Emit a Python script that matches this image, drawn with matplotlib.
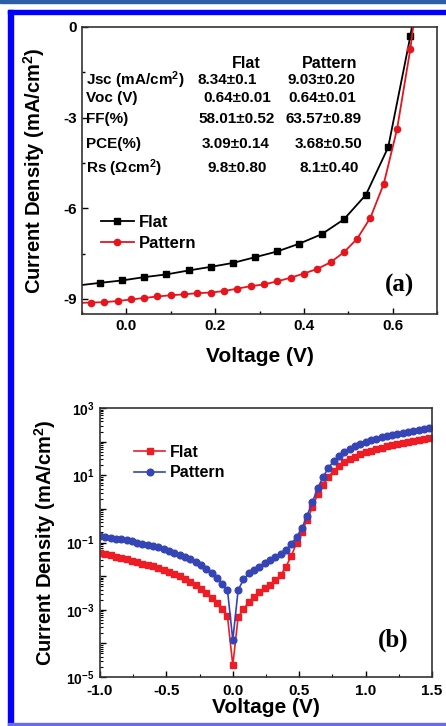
import numpy as np
import matplotlib
matplotlib.use("Agg")
import matplotlib.pyplot as plt
from matplotlib.ticker import MultipleLocator, LogLocator, FuncFormatter, NullFormatter
from matplotlib.patches import Rectangle

plt.rcParams['font.family'] = ['Liberation Sans', 'DejaVu Sans']
plt.rcParams['font.weight'] = 'bold'
plt.rcParams['mathtext.fontset'] = 'custom'
plt.rcParams['mathtext.rm'] = 'Liberation Sans:bold'
plt.rcParams['mathtext.bf'] = 'Liberation Sans:bold'
plt.rcParams['mathtext.default'] = 'bf'

# ---------------- Panel (a): J-V curves ----------------
flat_v = [-0.10, -0.06, -0.01, 0.04, 0.09, 0.14, 0.19, 0.24, 0.29, 0.34, 0.39, 0.44, 0.49, 0.54, 0.59, 0.64, 0.66]
flat_j = [-8.54, -8.47, -8.39, -8.28, -8.19, -8.06, -7.94, -7.81, -7.62, -7.43, -7.17, -6.86, -6.37, -5.55, -3.98, -0.30, 1.5]
pat_v = [-0.10, -0.08, -0.05, -0.02, 0.01, 0.04, 0.07, 0.10, 0.13, 0.16, 0.19, 0.22, 0.25, 0.28, 0.31,
         0.34, 0.37, 0.40, 0.43, 0.46, 0.49, 0.52, 0.55, 0.58, 0.61, 0.64, 0.655]
pat_j = [-9.13, -9.12, -9.11, -9.07, -9.02, -8.97, -8.92, -8.88, -8.85, -8.81, -8.79, -8.74, -8.66, -8.58, -8.52,
         -8.42, -8.30, -8.16, -8.01, -7.79, -7.46, -7.01, -6.31, -5.19, -3.38, -0.72, 1.0]

table_cols = ["Flat", "Pattern"]
table_rows = [r"Jsc (mA/cm$^2$)", "Voc (V)", "FF(%)", "PCE(%)", r"Rs ($\Omega$cm$^2$)"]
table_flat = ["8.34±0.1", "0.64±0.01", "58.01±0.52", "3.09±0.14", "9.8±0.80"]
table_pattern = ["9.03±0.20", "0.64±0.01", "63.57±0.89", "3.68±0.50", "8.1±0.40"]

# ---------------- Panel (b): dark J-V on log scale ----------------
dark_v = [round(-1.0 + 0.04 * i, 2) for i in range(63)]
flat_log10_j = [-1.30, -1.34, -1.38, -1.42, -1.46, -1.50, -1.55, -1.59, -1.63, -1.67,
                -1.71, -1.76, -1.81, -1.87, -1.93, -2.00, -2.08, -2.17, -2.27, -2.38,
                -2.50, -2.64, -2.80, -2.98, -3.20, -4.65, -3.22, -2.98, -2.78, -2.62,
                -2.48, -2.36, -2.25, -2.13, -1.98, -1.72, -1.40, -1.02, -0.68, -0.32,
                0.05, 0.45, 0.72, 0.95, 1.13, 1.27, 1.38, 1.47, 1.55, 1.62,
                1.68, 1.73, 1.78, 1.82, 1.86, 1.90, 1.93, 1.97, 2.00, 2.03,
                2.06, 2.09, 2.12]
pattern_log10_j = [-0.82, -0.84, -0.86, -0.89, -0.91, -0.94, -0.97, -1.00, -1.03, -1.06,
                   -1.10, -1.14, -1.19, -1.24, -1.30, -1.36, -1.42, -1.50, -1.58, -1.68,
                   -1.79, -1.92, -2.06, -2.22, -2.42, -3.90, -2.42, -2.10, -1.92, -1.82,
                   -1.72, -1.62, -1.53, -1.44, -1.34, -1.22, -1.04, -0.84, -0.58, -0.20,
                   0.21, 0.62, 0.95, 1.22, 1.42, 1.57, 1.69, 1.78, 1.86, 1.93,
                   1.99, 2.04, 2.09, 2.13, 2.17, 2.21, 2.24, 2.27, 2.30, 2.33,
                   2.36, 2.39, 2.42]

W, H = 446, 726
fig = plt.figure(figsize=(W / 100, H / 100), dpi=100)

# decorative frame
fig.patches.append(Rectangle((0, 1 - 3 / H), 1, 3 / H, transform=fig.transFigure, color='#2a5fa8', zorder=0))
fig.patches.append(Rectangle((8 / W, 1 - 14 / H), 1 - 8 / W, 4 / H, transform=fig.transFigure, color='#0000ff', zorder=0))
fig.patches.append(Rectangle((8 / W, 0), 5 / W, 1 - 10 / H, transform=fig.transFigure, color='#0000ff', zorder=0))
fig.patches.append(Rectangle((8 / W, 1 / H), 1 - 8 / W, 2 / H, transform=fig.transFigure, color='#6a6aee', zorder=0))

def px_axes(l, t, r, b):
    return [l / W, 1 - b / H, (r - l) / W, (b - t) / H]

tick_kw = dict(direction='in', width=1.0, labelsize=11)

# ---------- (a)
ax1 = fig.add_axes(px_axes(82, 27, 437, 314))
ax1.plot(flat_v, flat_j, '-', color='black', lw=1.3, marker='s', ms=4.5,
         markevery=list(range(1, len(flat_v) - 1)), label='Flat')
ax1.plot(pat_v, pat_j, '-', color='#e8141c', lw=1.3, marker='o', ms=4.5,
         markevery=list(range(1, len(pat_v) - 1)), label='Pattern')
ax1.set_xlim(-0.1, 0.7)
ax1.set_ylim(-9.5, 0)
ax1.xaxis.set_major_locator(MultipleLocator(0.2))
ax1.xaxis.set_minor_locator(MultipleLocator(0.1))
ax1.yaxis.set_major_locator(MultipleLocator(3))
ax1.yaxis.set_minor_locator(MultipleLocator(1.5))
ax1.xaxis.set_major_formatter(FuncFormatter(lambda v, p: f"{v:.1f}"))
ax1.yaxis.set_major_formatter(FuncFormatter(lambda v, p: f"{v:.0f}"))
ax1.tick_params(which='major', length=4, **tick_kw)
ax1.tick_params(which='minor', length=2.5, direction='in', width=1.0)
for s in ax1.spines.values():
    s.set_linewidth(1.2)
    s.set_color('#333333')
ax1.set_xlabel("Voltage (V)", fontsize=15, fontweight='bold', labelpad=10)
ax1.set_ylabel(r"Current Density (mA/cm$^2$)", fontsize=14.5, fontweight='bold', labelpad=12)
ax1.legend(loc='upper left', bbox_to_anchor=(0.02, 0.385), frameon=False, fontsize=12,
           handlelength=2.0, handletextpad=0.3, labelspacing=0.35, borderpad=0.2)

def tx(x, y, s, **kw):
    # place text at pixel position of the figure
    fig.text(x / W, 1 - y / H, s, **kw)

tfs = 11
tx(246, 63, table_cols[0], ha='center', va='center', fontsize=tfs + 0.5, fontweight='bold')
tx(330, 63, table_cols[1], ha='center', va='center', fontsize=tfs + 0.5, fontweight='bold')
row_y = [80, 98, 119, 144, 168]
flat_x = [197, 203, 198, 202, 207]
pat_x = [288, 288, 286, 295, 300]
for i in range(5):
    tx(86, row_y[i], table_rows[i], ha='left', va='center', fontsize=tfs, fontweight='bold')
    tx(flat_x[i], row_y[i], table_flat[i], ha='left', va='center', fontsize=tfs, fontweight='bold')
    tx(pat_x[i], row_y[i], table_pattern[i], ha='left', va='center', fontsize=tfs, fontweight='bold')
tx(400, 285, "(a)", ha='center', va='center', fontsize=18, fontweight='bold',
   family=['Liberation Serif', 'DejaVu Serif'])

# ---------- (b)
ax2 = fig.add_axes(px_axes(100, 408, 432, 677))
flat_dark = [10 ** v for v in flat_log10_j]
pattern_dark = [10 ** v for v in pattern_log10_j]
ax2.plot(dark_v, flat_dark, '-', color='#ee1c24', lw=1.2, marker='s', ms=4.5, label='Flat')
ax2.plot(dark_v, pattern_dark, '-', color='#3545b5', lw=1.2, marker='o', ms=4.8, label='Pattern')
ax2.set_yscale('log')
ax2.set_xlim(-1.0, 1.5)
ax2.set_ylim(1e-5, 1e3)
ax2.xaxis.set_major_locator(MultipleLocator(0.5))
ax2.xaxis.set_minor_locator(MultipleLocator(0.25))
ax2.xaxis.set_major_formatter(FuncFormatter(lambda v, p: f"{v:.1f}"))
ax2.yaxis.set_major_locator(LogLocator(base=10, numticks=20))
ax2.yaxis.set_minor_locator(LogLocator(base=10, subs=np.arange(2, 10), numticks=20))
ax2.yaxis.set_minor_formatter(NullFormatter())

def logfmt(v, p):
    e = int(round(np.log10(v)))
    if e % 2 == 0:
        return ""
    return r"10$^{%d}$" % e

ax2.yaxis.set_major_formatter(FuncFormatter(logfmt))
ax2.tick_params(which='major', length=4, **tick_kw)
ax2.tick_params(axis='x', which='major', pad=5)
ax2.tick_params(axis='y', which='major', labelsize=10, pad=4)
ax2.tick_params(which='minor', length=2, direction='in', width=0.8)
for s in ax2.spines.values():
    s.set_linewidth(1.2)
    s.set_color('#333333')
ax2.set_xlabel("Voltage (V)", fontsize=15, fontweight='bold', labelpad=0)
ax2.set_ylabel(r"Current Density (mA/cm$^2$)", fontsize=14.5, fontweight='bold', labelpad=6)
ax2.legend(loc='upper left', bbox_to_anchor=(0.07, 0.905), frameon=False, fontsize=11.5,
           handlelength=1.9, handletextpad=0.3, labelspacing=0.35, borderpad=0.2)
tx(393, 640, "(b)", ha='center', va='center', fontsize=18, fontweight='bold',
   family=['Liberation Serif', 'DejaVu Serif'])

fig.savefig("out.png", dpi=100)
